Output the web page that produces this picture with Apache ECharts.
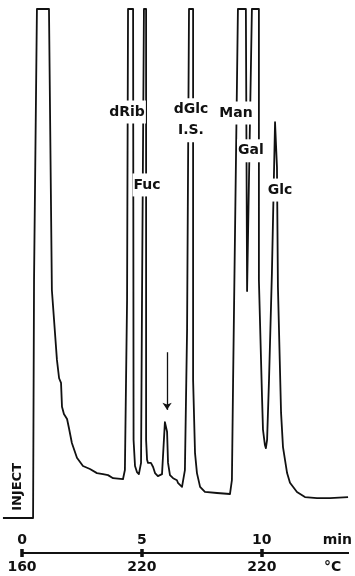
<!DOCTYPE html>
<html>
<head>
<meta charset="utf-8">
<script src="https://cdn.jsdelivr.net/npm/echarts@6/dist/echarts.min.js"></script>
<style>
  html, body { margin: 0; padding: 0; background: #fff; }
  #chart { width: 355px; height: 576px; }
</style>
</head>
<body>
<div id="chart"></div>
<script>
// Recorder trace: retention time (min) and detector response (% of full scale, pen limit = 100)
const traceTime = [
  -0.79, 0.46, 0.50, 0.62, 1.12, 1.24, 1.45, 1.54, 1.62, 1.66, 1.74, 1.87, 1.95, 2.07, 2.28,
  2.53, 2.82, 3.11, 3.36, 3.57, 3.78, 4.19,
  4.27, 4.36, 4.40, 4.61, 4.63, 4.69, 4.77, 4.85,
  4.94, 4.98, 5.06, 5.15, 5.15, 5.19, 5.23, 5.35, 5.44, 5.52, 5.64, 5.81,
  5.85, 5.93, 5.98, 6.02, 6.06, 6.14, 6.27, 6.43, 6.47, 6.64, 6.72,
  6.76, 6.85, 6.93, 7.10, 7.10, 7.18, 7.26, 7.39, 7.59, 8.09, 8.63,
  8.71, 8.76, 8.96, 9.29, 9.34, 9.38, 9.54, 9.83,
  9.83, 9.96, 10.00, 10.08, 10.12, 10.17, 10.25, 10.37, 10.50, 10.54, 10.58, 10.62,
  10.75, 10.83, 11.00, 11.12, 11.41, 11.74, 12.24, 12.78, 13.53
];
const traceLevel = [
  0.2, 0.2, 46.9, 100, 100, 44.9, 31.2, 27.6, 26.7, 22.0, 20.6, 19.6, 17.8, 14.9, 12.0,
  10.4, 9.8, 9.0, 8.8, 8.6, 8.0, 7.8,
  9.6, 42.9, 100, 100, 15.5, 10.4, 9.2, 8.8,
  11.0, 42.9, 100, 100, 15.5, 11.6, 11.0, 11.0, 10.2, 9.0, 8.4, 8.8,
  12.2, 19.0, 18.8, 17.1, 11.0, 8.6, 8.0, 7.6, 7.1, 6.3, 6.1,
  9.6, 37.1, 100, 100, 27.3, 12.9, 9.0, 6.3, 5.3, 5.1, 4.9,
  7.6, 27.3, 100, 100, 44.7, 44.7, 100, 100,
  46.9, 23.9, 17.5, 14.5, 13.9, 15.5, 27.3, 48.2, 77.8, 78.0, 69.0, 45.5,
  20.8, 14.1, 9.0, 7.1, 5.3, 4.3, 4.1, 4.1, 4.3
];

// Peak identifications
const peakNames  = ['dRib', 'Fuc', 'dGlc\nI.S.', 'Man', 'Gal', 'Glc'];
const labelTime  = [4.36, 5.19, 7.01, 8.88, 9.50, 10.71];
const labelLevel = [79.8, 65.5, 78.2, 79.6, 72.2, 64.5];

// Unidentified peak marked by an arrow
const arrowTime = 6.02;
const arrowFrom = 32.7;
const arrowTo = 21.4;

// Time / temperature scale bar
const minuteTicks = [0, 5, 10];
const tempLabels = ['160', '220', '220'];
const minUnit = 'min';
const tempUnit = '°C';
const minUnitAt = 13.15;
const tempUnitAt = 12.95;

const traceData = traceTime.map((t, i) => [t, traceLevel[i]]);
const labelData = peakNames.map((n, i) => ({ name: n, value: [labelTime[i], labelLevel[i]] }));

const FONT = 'DejaVu Sans';
const INK = '#111';

const chart = echarts.init(document.getElementById('chart'), null, { renderer: 'canvas' });

chart.setOption({
  animation: false,
  backgroundColor: '#fff',
  grid: [
    { left: 0.3, top: 9, width: 354.27, height: 510 },
    { left: 22, top: 553, width: 327.8, height: 0 }
  ],
  xAxis: [
    { gridIndex: 0, type: 'value', min: -0.9, max: 13.8, show: false },
    {
      gridIndex: 1, type: 'value', min: 0, max: 13.6, position: 'top',
      axisLine: { show: true, lineStyle: { color: INK, width: 2 } },
      axisTick: { show: true, customValues: minuteTicks, length: 4, lineStyle: { color: INK, width: 3.5 } },
      splitLine: { show: false },
      axisLabel: {
        show: true, customValues: minuteTicks.concat([minUnitAt]), margin: 6,
        color: INK, fontFamily: FONT, fontWeight: 'bold', fontSize: 14,
        formatter: v => (v === minUnitAt ? minUnit : String(v))
      }
    },
    {
      gridIndex: 1, type: 'value', min: 0, max: 13.6, position: 'bottom',
      axisLine: { show: true, lineStyle: { color: INK, width: 2 } },
      axisTick: { show: true, customValues: minuteTicks, length: 4, lineStyle: { color: INK, width: 3.5 } },
      splitLine: { show: false },
      axisLabel: {
        show: true, customValues: minuteTicks.concat([tempUnitAt]), margin: 7,
        color: INK, fontFamily: FONT, fontWeight: 'bold', fontSize: 14,
        formatter: v => {
          const i = minuteTicks.indexOf(v);
          return i >= 0 ? tempLabels[i] : tempUnit;
        }
      }
    }
  ],
  yAxis: [
    { gridIndex: 0, type: 'value', min: 0, max: 100, show: false },
    { gridIndex: 1, type: 'value', min: 0, max: 1, show: false }
  ],
  series: [
    {
      type: 'line',
      xAxisIndex: 0, yAxisIndex: 0,
      data: traceData,
      showSymbol: false,
      clip: false,
      silent: true,
      lineStyle: { color: INK, width: 1.8, join: 'round' },
      z: 2,
      markLine: {
        silent: true,
        symbol: ['none', 'arrow'],
        symbolSize: 7,
        label: { show: false },
        lineStyle: { color: INK, width: 1.3, type: 'solid', opacity: 1 },
        itemStyle: { color: INK },
        data: [[{ coord: [arrowTime, arrowFrom] }, { coord: [arrowTime, arrowTo] }]]
      }
    },
    {
      type: 'scatter',
      xAxisIndex: 0, yAxisIndex: 0,
      data: labelData,
      symbolSize: 1,
      itemStyle: { color: 'rgba(255,255,255,0)', opacity: 1 },
      silent: true,
      z: 5,
      label: {
        show: true,
        position: 'inside',
        formatter: p => p.name,
        color: INK,
        opacity: 1,
        fontFamily: FONT,
        fontWeight: 'bold',
        fontSize: 14,
        lineHeight: 21,
        align: 'center',
        backgroundColor: '#fff',
        padding: [1, 1]
      }
    }
  ],
  graphic: [
    {
      type: 'text',
      left: 11, top: 463,
      rotation: Math.PI / 2,
      originX: 0, originY: 0,
      style: {
        text: 'INJECT',
        fill: INK,
        font: 'bold 13px "DejaVu Sans"'
      }
    }
  ]
});
</script>
</body>
</html>
